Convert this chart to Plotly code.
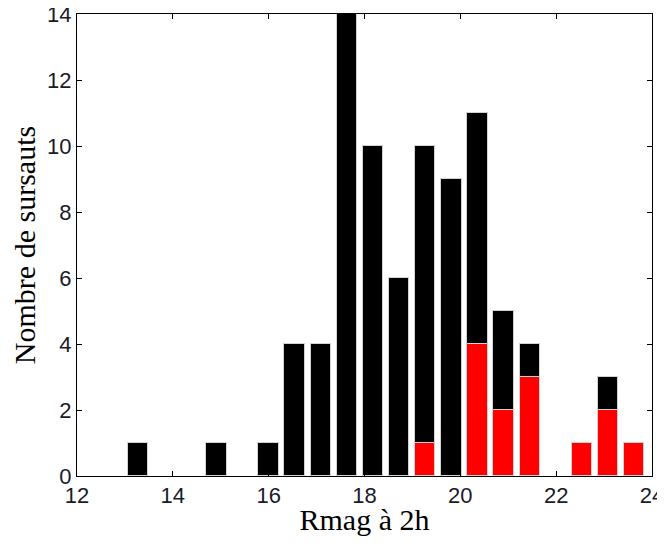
import plotly.graph_objects as go

# Histogram bins (centres, Rmag at 2h), 20 bins between ~13.0 and ~23.9
bin_lo = 13.0
bin_hi = 23.9
n_bins = 20
total_counts = [1, 0, 0, 1, 0, 1, 4, 4, 14, 10, 6, 10, 9, 11, 5, 4, 0, 1, 3, 1]
red_counts   = [0, 0, 0, 0, 0, 0, 0, 0, 0, 0, 0, 1, 0, 4, 2, 3, 0, 1, 2, 1]

x_ticks = [12, 14, 16, 18, 20, 22, 24]
y_ticks = [0, 2, 4, 6, 8, 10, 12, 14]

bw = (bin_hi - bin_lo) / n_bins
centers = [bin_lo + bw * (i + 0.5) for i in range(n_bins)]

def nz(v):
    return [c if c else None for c in v]

edge = dict(color="rgb(210,210,210)", width=1)
fig = go.Figure()
fig.add_trace(go.Bar(x=centers, y=nz(total_counts), width=bw * 0.78,
                     marker=dict(color="black", line=edge), showlegend=False))
fig.add_trace(go.Bar(x=centers, y=nz(red_counts), width=bw * 0.78,
                     marker=dict(color="#ff0000", line=edge), showlegend=False))

axis_common = dict(showline=True, linecolor="black", linewidth=1, mirror="ticks",
                   ticks="inside", ticklen=5, tickcolor="black", showgrid=False,
                   zeroline=False, automargin=False, ticklabeloverflow="allow",
                   tickfont=dict(family="Liberation Sans, Arial", size=22, color="#1a1a2a"))

title_font = dict(family="Liberation Serif, Times New Roman", size=30, color="black")

# page body has an 8px margin, so the figure is sized to fit the 665x544 window
fig.update_layout(
    width=657, height=528,
    margin=dict(l=69, r=13, t=6, b=60),
    paper_bgcolor="white", plot_bgcolor="white",
    barmode="overlay", bargap=0,
    xaxis=dict(range=[12, 24], tickvals=x_ticks, ticktext=[str(v) for v in x_ticks],
               title=dict(text="Rmag à 2h", standoff=4, font=title_font),
               **axis_common),
    yaxis=dict(range=[0, 14], tickvals=y_ticks, ticktext=[str(v) for v in y_ticks],
               title=dict(text="Nombre de sursauts", standoff=5, font=title_font),
               **axis_common),
)

fig.write_html("out.html")
